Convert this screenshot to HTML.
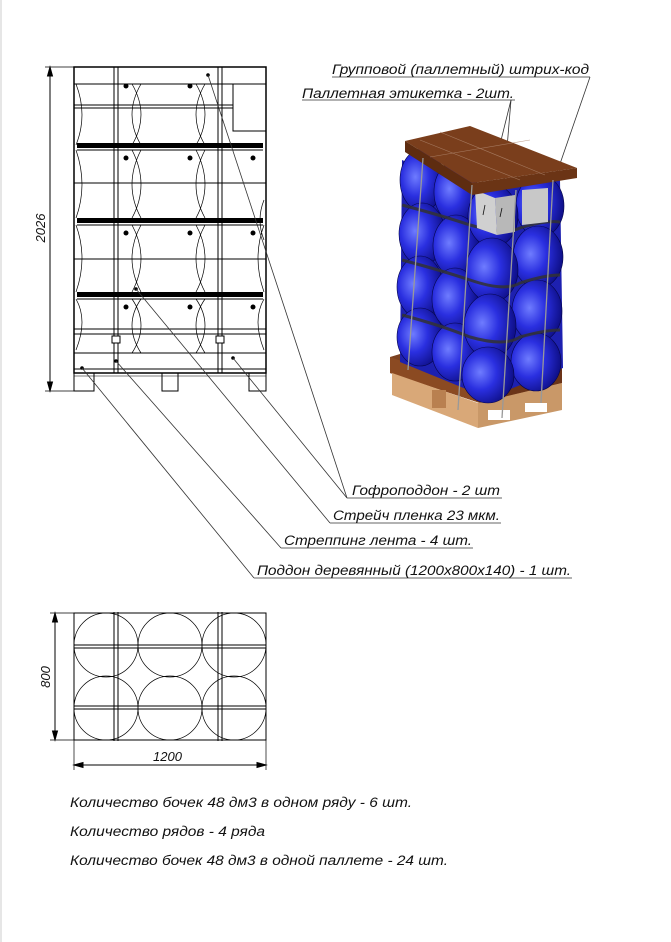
<!DOCTYPE html>
<html><head><meta charset="utf-8"><style>
html,body{margin:0;padding:0;background:#fff;}
svg{display:block;}
text{font-family:"Liberation Sans",sans-serif;font-style:italic;fill:#111;}
</style></head><body>
<svg width="671" height="942" viewBox="0 0 671 942" xmlns="http://www.w3.org/2000/svg">
<defs>
<radialGradient id="bl" cx="0.35" cy="0.45" r="0.7">
<stop offset="0" stop-color="#6f7cff"/><stop offset="0.45" stop-color="#2a2fe0"/><stop offset="1" stop-color="#0a0a7a"/>
</radialGradient>
</defs>
<line x1="1" y1="0" x2="1" y2="942" stroke="#ccc"/>
<!-- FRONT VIEW -->
<g stroke="#000" fill="none" stroke-width="1">
<line x1="45" y1="67" x2="74" y2="67" stroke-width="0.7"/>
<line x1="45" y1="391" x2="74" y2="391" stroke-width="0.7"/>
<line x1="50" y1="67" x2="50" y2="391"/>
<path d="M50 67 l-2.5 9 h5z M50 391 l-2.5 -9 h5z" fill="#000"/>
<rect x="74" y="67" width="192" height="306" stroke-width="1.5"/>
<line x1="74" y1="84" x2="266" y2="84"/>
<line x1="74" y1="105" x2="233" y2="105"/>
<line x1="74" y1="108" x2="233" y2="108"/>
<rect x="233" y="84" width="33" height="47"/>
<line x1="74" y1="183" x2="266" y2="183"/>
<line x1="74" y1="259" x2="266" y2="259"/>
<line x1="74" y1="329" x2="266" y2="329"/>
<line x1="74" y1="334" x2="266" y2="334"/>
<line x1="74" y1="353" x2="266" y2="353"/>
<line x1="74" y1="369" x2="266" y2="369"/>
<g fill="#000" stroke="none">
<rect x="77" y="143" width="186" height="5"/>
<rect x="77" y="218" width="186" height="5"/>
<rect x="77" y="292" width="186" height="5"/>
</g>
<line x1="77" y1="150" x2="263" y2="150"/>
<line x1="77" y1="225" x2="263" y2="225"/>
<line x1="77" y1="299" x2="263" y2="299"/>
<!-- barrel curves -->
<g stroke-width="0.7">
<path d="M76 84 Q88 115 76 145 M76 150 Q88 185 76 218 M76 225 Q88 258 76 292 M76 299 Q88 320 76 350"/>
<path d="M264 200 Q256 220 264 240 M264 225 Q252 258 264 292 M264 299 Q252 320 264 350"/>
<path d="M132 84 Q150 115 132 145 M141 84 Q123 115 141 145 M132 150 Q150 185 132 218 M141 150 Q123 185 141 218 M132 225 Q150 258 132 292 M141 225 Q123 258 141 292 M132 299 Q150 325 132 353 M141 299 Q123 325 141 353"/>
<path d="M196 84 Q214 115 196 145 M205 84 Q187 115 205 145 M196 150 Q214 185 196 218 M205 150 Q187 185 205 218 M196 225 Q214 258 196 292 M205 225 Q187 258 205 292 M196 299 Q214 325 196 353 M205 299 Q187 325 205 353"/>
</g>
<!-- straps -->
<line x1="114" y1="67" x2="114" y2="373"/><line x1="118" y1="67" x2="118" y2="373"/>
<line x1="218" y1="67" x2="218" y2="373"/><line x1="222" y1="67" x2="222" y2="373"/>
<rect x="112" y="336" width="8" height="7" fill="#fff"/>
<rect x="216" y="336" width="8" height="7" fill="#fff"/>
<!-- feet -->
<rect x="74" y="373" width="20" height="18"/>
<rect x="162" y="373" width="16" height="18"/>
<rect x="249" y="373" width="17" height="18"/>
<line x1="74" y1="376" x2="266" y2="376" stroke-width="0.6"/>
</g>
<g fill="#000">
<circle cx="126" cy="86" r="2.5"/><circle cx="190" cy="86" r="2.5"/>
<circle cx="126" cy="158" r="2.5"/><circle cx="190" cy="158" r="2.5"/><circle cx="253" cy="158" r="2.5"/>
<circle cx="126" cy="233" r="2.5"/><circle cx="190" cy="233" r="2.5"/><circle cx="253" cy="233" r="2.5"/>
<circle cx="126" cy="307" r="2.5"/><circle cx="190" cy="307" r="2.5"/><circle cx="253" cy="307" r="2.5"/>
<circle cx="208" cy="75" r="1.8"/><circle cx="136" cy="289" r="1.8"/><circle cx="116" cy="361" r="1.8"/>
<circle cx="82" cy="368" r="1.8"/><circle cx="233" cy="358" r="1.8"/>
</g>
<text x="0" y="0" font-size="13" transform="translate(45,228) rotate(-90)" text-anchor="middle">2026</text>
<!-- leaders -->
<g stroke="#333" stroke-width="0.8" fill="none">
<line x1="208" y1="75" x2="347" y2="498"/>
<line x1="233" y1="358" x2="347" y2="498"/>
<line x1="136" y1="289" x2="330" y2="523"/>
<line x1="116" y1="361" x2="281" y2="548"/>
<line x1="82" y1="368" x2="254" y2="578"/>
<line x1="347" y1="498" x2="502" y2="498"/>
<line x1="330" y1="523" x2="501" y2="523"/>
<line x1="281" y1="548" x2="473" y2="548"/>
<line x1="254" y1="578" x2="572" y2="578"/>
<line x1="332" y1="77" x2="590" y2="77"/>
<line x1="302" y1="100" x2="515" y2="100"/>
<line x1="590" y1="77" x2="543" y2="213"/>
<line x1="511" y1="100" x2="485" y2="205"/>
<line x1="511" y1="100" x2="502" y2="208"/>
</g>
<text x="352" y="495" font-size="13.5" textLength="148" lengthAdjust="spacingAndGlyphs">Гофроподдон - 2 шт</text>
<text x="333" y="520" font-size="13.5" textLength="167" lengthAdjust="spacingAndGlyphs">Стрейч пленка 23 мкм.</text>
<text x="284" y="545" font-size="13.5" textLength="188" lengthAdjust="spacingAndGlyphs">Стреппинг лента - 4 шт.</text>
<text x="257" y="575" font-size="13.5" textLength="314" lengthAdjust="spacingAndGlyphs">Поддон деревянный (1200x800x140) - 1 шт.</text>
<text x="332" y="74" font-size="13.5" textLength="257" lengthAdjust="spacingAndGlyphs">Групповой (паллетный) штрих-код</text>
<text x="302" y="98" font-size="13.5" textLength="212" lengthAdjust="spacingAndGlyphs">Паллетная этикетка - 2шт.</text>

<!-- 3D render -->
<g>
<!-- pallet -->
<polygon points="390,357 400,354 562,366 562,383 480,403 390,373" fill="#7a4020"/>
<polygon points="390,357 480,388 480,403 390,373" fill="#8b4a22"/>
<polygon points="480,388 562,366 562,383 480,403" fill="#6b3418"/>
<polygon points="392,373 478,403 478,428 392,395" fill="#d9a878"/>
<polygon points="478,403 562,383 562,410 478,428" fill="#c99868"/>
<rect x="488" y="410" width="22" height="10" fill="#fff"/>
<rect x="525" y="403" width="22" height="9" fill="#fff"/>
<rect x="432" y="390" width="14" height="18" fill="#b98050"/>
<!-- barrel backdrop -->
<polygon points="402,160 470,188 560,180 563,368 488,398 400,362" fill="#1d20b0"/>
<!-- barrels -->
<g stroke="#05054a" stroke-width="0.6">
<ellipse cx="422" cy="180" rx="22" ry="31" fill="url(#bl)"/>
<ellipse cx="422" cy="234" rx="23" ry="31" fill="url(#bl)"/>
<ellipse cx="420" cy="287" rx="23" ry="31" fill="url(#bl)"/>
<ellipse cx="420" cy="337" rx="23" ry="29" fill="url(#bl)"/>
<ellipse cx="456" cy="192" rx="22" ry="31" fill="url(#bl)"/>
<ellipse cx="456" cy="246" rx="23" ry="31" fill="url(#bl)"/>
<ellipse cx="455" cy="299" rx="23" ry="31" fill="url(#bl)"/>
<ellipse cx="455" cy="352" rx="23" ry="29" fill="url(#bl)"/>
<ellipse cx="540" cy="206" rx="24" ry="31" fill="url(#bl)"/>
<ellipse cx="538" cy="257" rx="25" ry="31" fill="url(#bl)"/>
<ellipse cx="537" cy="311" rx="25" ry="31" fill="url(#bl)"/>
<ellipse cx="536" cy="362" rx="25" ry="29" fill="url(#bl)"/>
<ellipse cx="493" cy="216" rx="25" ry="31" fill="url(#bl)"/>
<ellipse cx="492" cy="270" rx="26" ry="32" fill="url(#bl)"/>
<ellipse cx="490" cy="326" rx="26" ry="32" fill="url(#bl)"/>
<ellipse cx="488" cy="375" rx="26" ry="28" fill="url(#bl)"/>
</g>
<!-- film bands -->
<g stroke="#333" stroke-width="3" fill="none" opacity="0.85">
<path d="M402 205 Q440 215 470 225 Q505 235 520 228 Q545 220 560 222"/>
<path d="M402 260 Q440 270 470 280 Q505 292 520 283 Q545 275 560 275"/>
<path d="M402 315 Q440 325 470 337 Q505 347 520 337 Q545 330 560 330"/>
</g>
<!-- gray label boxes -->
<polygon points="475,190 495,198 497,235 477,228" fill="#d0d0d0"/>
<polygon points="495,198 515,195 515,232 497,235" fill="#b8b8b8"/>
<polygon points="522,190 548,188 548,222 522,225" fill="#c8c8c8"/>
<!-- top board -->
<polygon points="405,141 470,126 577,168 472,183" fill="#7a3e1c"/>
<polygon points="405,141 472,183 472,195 405,152" fill="#5e2c10"/>
<polygon points="472,183 577,168 577,178 472,195" fill="#6b3415"/>
<g stroke="#b08870" stroke-width="0.6" opacity="0.8">
<line x1="420" y1="140" x2="520" y2="180"/><line x1="440" y1="132" x2="545" y2="175"/>
<line x1="430" y1="157" x2="530" y2="140"/>
</g>
<!-- straps -->
<g stroke="#999" stroke-width="1.3" fill="none">
<line x1="423" y1="158" x2="408" y2="370"/>
<line x1="472" y1="185" x2="458" y2="410"/>
<line x1="516" y1="190" x2="502" y2="418"/>
<line x1="553" y1="180" x2="541" y2="403"/>
</g>
<g stroke="#111" stroke-width="0.8"><line x1="485" y1="205" x2="483" y2="215"/><line x1="502" y1="208" x2="500" y2="217"/></g>
</g>

<!-- TOP VIEW -->
<g stroke="#000" fill="none" stroke-width="1">
<rect x="74" y="613" width="192" height="127"/>
<g stroke-width="0.7">
<circle cx="106" cy="645" r="32"/><circle cx="170" cy="645" r="32"/><circle cx="234" cy="645" r="32"/>
<circle cx="106" cy="708" r="32"/><circle cx="170" cy="708" r="32"/><circle cx="234" cy="708" r="32"/>
</g>
<line x1="74" y1="645" x2="266" y2="645"/><line x1="74" y1="648" x2="266" y2="648"/>
<line x1="74" y1="706" x2="266" y2="706"/><line x1="74" y1="709" x2="266" y2="709"/>
<line x1="114" y1="612" x2="114" y2="741"/><line x1="118" y1="612" x2="118" y2="741"/>
<line x1="218" y1="612" x2="218" y2="741"/><line x1="222" y1="612" x2="222" y2="741"/>
<line x1="50" y1="613" x2="74" y2="613" stroke-width="0.7"/>
<line x1="50" y1="740" x2="74" y2="740" stroke-width="0.7"/>
<line x1="55" y1="613" x2="55" y2="740"/>
<line x1="74" y1="740" x2="74" y2="770" stroke-width="0.7"/>
<line x1="266" y1="740" x2="266" y2="770" stroke-width="0.7"/>
<line x1="74" y1="765" x2="266" y2="765"/>
<path d="M55 613 l-2.5 9 h5z M55 740 l-2.5 -9 h5z M74 765 l9 -2.5 v5z M266 765 l-9 -2.5 v5z" fill="#000"/>
</g>
<text x="0" y="0" font-size="13" transform="translate(50,677) rotate(-90)" text-anchor="middle">800</text>
<text x="153" y="761" font-size="13">1200</text>

<text x="70" y="807" font-size="13.5" textLength="342" lengthAdjust="spacingAndGlyphs">Количество бочек 48 дм3 в одном ряду - 6 шт.</text>
<text x="70" y="836" font-size="13.5" textLength="195" lengthAdjust="spacingAndGlyphs">Количество рядов - 4 ряда</text>
<text x="70" y="865" font-size="13.5" textLength="378" lengthAdjust="spacingAndGlyphs">Количество бочек 48 дм3 в одной паллете - 24 шт.</text>
</svg>
</body></html>
